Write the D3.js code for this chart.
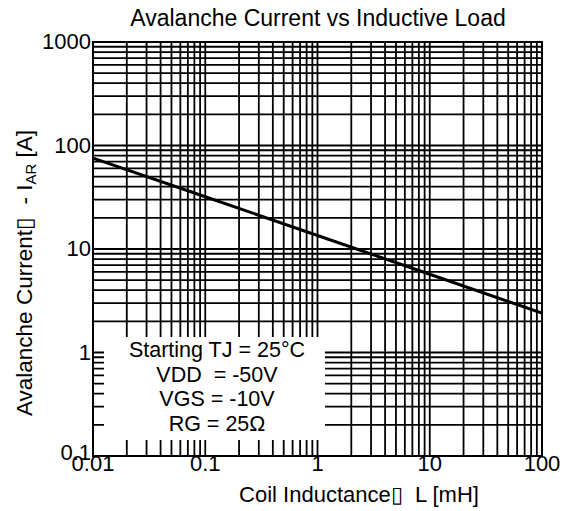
<!DOCTYPE html>
<html>
<head>
<meta charset="utf-8">
<script src="https://cdn.jsdelivr.net/npm/d3@7"></script>
<style>
  body { margin: 0; background: #fff; }
  text { font-family: "Liberation Sans", Arial, sans-serif; fill: #000; white-space: pre; }
</style>
</head>
<body>
<svg id="chart" width="563" height="511"></svg>
<script>
// values
var inductance = [0.01, 0.1, 1, 10, 100];
var current = [75.5, 32, 13.5, 5.7, 2.4];
var xTicks = [0.01, 0.1, 1, 10, 100];
var xTickLabels = ["0.01", "0.1", "1", "10", "100"];
var yTicks = [0.1, 1, 10, 100, 1000];
var yTickLabels = ["0.1", "1", "10", "100", "1000"];
var conditions = ["Starting TJ = 25\u00b0C", "VDD  = -50V", "VGS = -10V", "RG = 25\u03a9"];

(function() {
  var svg = d3.select("svg#chart");
  var left = 93, right = 542, top = 42, bottom = 456;

  var x = d3.scaleLog().domain([0.01, 100]).range([left, right]);
  var y = d3.scaleLog().domain([0.1, 1000]).range([bottom, top]);

  // minor grid values 1..9 per decade
  function gridValues(lo, hi) {
    var out = [];
    for (var e = Math.log10(lo); e < Math.log10(hi); e++) {
      for (var m = 1; m < 10; m++) out.push(m * Math.pow(10, e));
    }
    out.push(hi);
    return out;
  }
  var xGrid = gridValues(0.01, 100);
  var yGrid = gridValues(0.1, 1000);

  var grid = svg.append("g").attr("class", "grid");
  grid.selectAll(".vline")
    .data(xGrid)
    .enter().append("line")
    .attr("class", "vline")
    .attr("x1", function(d) { return x(d); })
    .attr("x2", function(d) { return x(d); })
    .attr("y1", top).attr("y2", bottom)
    .attr("stroke", "#000").attr("stroke-width", 1.8);

  grid.selectAll(".hline")
    .data(yGrid)
    .enter().append("line")
    .attr("class", "hline")
    .attr("x1", left).attr("x2", right)
    .attr("y1", function(d) { return y(d); })
    .attr("y2", function(d) { return y(d); })
    .attr("stroke", "#000").attr("stroke-width", 1.8);

  // the curve
  var line = d3.line()
    .x(function(d, i) { return x(inductance[i]); })
    .y(function(d) { return y(d); });
  svg.append("path")
    .datum(current)
    .attr("d", line)
    .attr("fill", "none")
    .attr("stroke", "#000")
    .attr("stroke-width", 3);

  // white box over the grid holding the test conditions
  svg.append("rect")
    .attr("x", 104).attr("y", 337)
    .attr("width", 221).attr("height", 103)
    .attr("fill", "#fff");

  svg.selectAll(".cond")
    .data(conditions)
    .enter().append("text")
    .attr("class", "cond")
    .attr("x", 217)
    .attr("y", function(d, i) { return 357 + i * 24.7; })
    .attr("text-anchor", "middle")
    .style("font-size", "21.5px")
    .text(function(d) { return d; });

  // frame
  svg.append("rect")
    .attr("x", left).attr("y", top)
    .attr("width", right - left).attr("height", bottom - top)
    .attr("fill", "none").attr("stroke", "#000").attr("stroke-width", 2);

  // tick labels
  svg.selectAll(".ylab")
    .data(yTicks)
    .enter().append("text")
    .attr("class", "ylab")
    .attr("x", 91)
    .attr("y", function(d) { return y(d); })
    .attr("dy", function(d) { return d === 0.1 ? "0.2em" : "0.33em"; })
    .attr("text-anchor", "end")
    .style("font-size", "22px")
    .text(function(d, i) { return yTickLabels[i]; });

  svg.selectAll(".xlab")
    .data(xTicks)
    .enter().append("text")
    .attr("class", "xlab")
    .attr("x", function(d) { return x(d); })
    .attr("y", bottom + 15)
    .attr("text-anchor", "middle")
    .style("font-size", "22px")
    .text(function(d, i) { return xTickLabels[i]; });

  // titles
  svg.append("text")
    .attr("x", 318).attr("y", 26)
    .attr("text-anchor", "middle")
    .style("font-size", "23px")
    .text("Avalanche Current vs Inductive Load");

  svg.append("text")
    .attr("x", 359).attr("y", 502)
    .attr("text-anchor", "middle")
    .style("font-size", "22px")
    .text("Coil Inductance\u25af  L [mH]");

  var yt = svg.append("text")
    .attr("transform", "translate(32,273) rotate(-90)")
    .attr("text-anchor", "middle")
    .style("font-size", "22.5px");
  yt.append("tspan").text("Avalanche Current\u25af  - I");
  yt.append("tspan").attr("dy", 4).style("font-size", "15px").text("AR");
  yt.append("tspan").attr("dy", -4).text(" [A]");
})();
</script>
</body>
</html>
